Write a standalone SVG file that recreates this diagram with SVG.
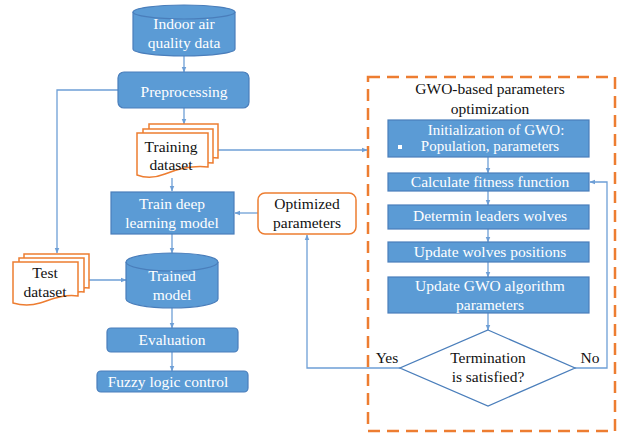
<svg xmlns="http://www.w3.org/2000/svg" width="623" height="434" viewBox="0 0 623 434">
<defs>
<style>
.b{fill:#5B9BD5;stroke:#4A7EBB;stroke-width:1.2}
.doc{fill:#fff;stroke:#ED7D31;stroke-width:1.5}
text{font-family:'Liberation Serif',serif;font-size:15.5px;text-anchor:middle}
.wt{fill:#fff}
.bt{fill:#111}
.c{fill:none;stroke:#6E9FD6;stroke-width:1.3}
</style>
<marker id="ar" viewBox="0 0 10 10" refX="9" refY="5" markerWidth="6" markerHeight="6" orient="auto" markerUnits="userSpaceOnUse">
<path d="M0,1 L10,5 L0,9 Z" fill="#6E9FD6"/>
</marker>
</defs>
<rect width="623" height="434" fill="#fff"/>

<g id="gwo-frame">
<rect x="368" y="77" width="247" height="354" fill="none" stroke="#ED7D31" stroke-width="2.5" stroke-dasharray="12,7"/>
<text class="bt" x="490" y="94">GWO-based parameters</text>
<text class="bt" x="490" y="114">optimization</text>
</g>

<g id="connectors">
<line class="c" x1="184" y1="56" x2="184" y2="72" marker-end="url(#ar)"/>
<polyline class="c" points="118,90 57,90 57,253" marker-end="url(#ar)"/>
<line class="c" x1="184" y1="108" x2="184" y2="124" marker-end="url(#ar)"/>
<line class="c" x1="218" y1="150" x2="367" y2="150" marker-end="url(#ar)"/>
<line class="c" x1="172" y1="178" x2="172" y2="191" marker-end="url(#ar)"/>
<line class="c" x1="258" y1="213" x2="235" y2="213" marker-end="url(#ar)"/>
<line class="c" x1="172" y1="234" x2="172" y2="253" marker-end="url(#ar)"/>
<line class="c" x1="89" y1="280" x2="126" y2="280" marker-end="url(#ar)"/>
<line class="c" x1="172" y1="308" x2="172" y2="328" marker-end="url(#ar)"/>
<line class="c" x1="172" y1="352" x2="172" y2="371" marker-end="url(#ar)"/>
<line class="c" x1="488" y1="157" x2="488" y2="173" marker-end="url(#ar)"/>
<line class="c" x1="488" y1="191" x2="488" y2="205" marker-end="url(#ar)"/>
<line class="c" x1="488" y1="229" x2="488" y2="242" marker-end="url(#ar)"/>
<line class="c" x1="488" y1="262" x2="488" y2="277" marker-end="url(#ar)"/>
<line class="c" x1="488" y1="313" x2="488" y2="330" marker-end="url(#ar)"/>
<polyline class="c" points="575,368 607,368 607,182 590,182" marker-end="url(#ar)"/>
<polyline class="c" points="400,368 307,368 307,235" marker-end="url(#ar)"/>
<text class="bt" x="387" y="363">Yes</text>
<text class="bt" x="590" y="363">No</text>
</g>

<g id="indoor-air">
<path class="b" d="M133,12 V49 A51,7 0 0 0 235,49 V12 A51,7 0 0 0 133,12 Z"/>
<path d="M133,12 A51,7 0 0 0 235,12" fill="none" stroke="#4A7EBB" stroke-width="1.2"/>
<text class="wt" x="184" y="29">Indoor air</text>
<text class="wt" x="184" y="48">quality data</text>
</g>

<g id="preprocessing">
<rect class="b" x="118" y="72" width="131" height="36" rx="6"/>
<text class="wt" x="184" y="97">Preprocessing</text>
</g>

<g id="training-dataset">
<path class="doc" d="M149,124 H218 V158 C205,156 195,160 190,161 L149,161 Z"/>
<path class="doc" d="M143,129 H213 V163 C200,161 190,166 180,168 L143,168 Z"/>
<path class="doc" d="M137,133 H208 V167 C190,165 175,170 165,174 C155,178 145,178 137,175 Z"/>
<text class="bt" x="171" y="152">Training</text>
<text class="bt" x="171" y="170">dataset</text>
</g>

<g id="train-model">
<rect class="b" x="111" y="192" width="123" height="42"/>
<text class="wt" x="172" y="209">Train deep</text>
<text class="wt" x="172" y="228">learning model</text>
</g>

<g id="optimized-parameters">
<rect x="258" y="193" width="98" height="41" rx="7" fill="#fff" stroke="#ED7D31" stroke-width="1.5"/>
<text class="bt" x="307" y="209">Optimized</text>
<text class="bt" x="307" y="228">parameters</text>
</g>

<g id="trained-model">
<path class="b" d="M126,262 V299 A46,9 0 0 0 218,299 V262 A46,9 0 0 0 126,262 Z"/>
<path d="M126,262 A46,9 0 0 0 218,262" fill="none" stroke="#4A7EBB" stroke-width="1.2"/>
<text class="wt" x="172" y="281">Trained</text>
<text class="wt" x="172" y="300">model</text>
</g>

<g id="test-dataset">
<path class="doc" d="M24,254 H89 V288 C80,287 72,290 68,291 L24,291 Z"/>
<path class="doc" d="M19,258 H84 V292 C75,291 67,294 60,296 L19,296 Z"/>
<path class="doc" d="M13,262 H78 V296 C62,294 50,300 40,303 C30,306 20,305 13,303 Z"/>
<text class="bt" x="45" y="278">Test</text>
<text class="bt" x="45" y="297">dataset</text>
</g>

<g id="evaluation">
<rect class="b" x="107" y="328" width="131" height="24" rx="4"/>
<text class="wt" x="172" y="345">Evaluation</text>
</g>

<g id="fuzzy">
<rect class="b" x="97" y="371" width="151" height="21" rx="4"/>
<text class="wt" x="168" y="387">Fuzzy logic control</text>
</g>

<g id="init-gwo">
<rect class="b" x="388" y="120" width="201" height="37"/>
<rect x="398" y="145" width="4" height="4" fill="#fff"/>
<text class="wt" x="496" y="135" style="font-size:15px">Initialization of GWO:</text>
<text class="wt" x="490" y="151" style="font-size:15px">Population, parameters</text>
</g>

<g id="fitness">
<rect class="b" x="388" y="173" width="201" height="18"/>
<text class="wt" x="490" y="187">Calculate fitness function</text>
</g>

<g id="leaders">
<rect class="b" x="388" y="205" width="201" height="24"/>
<text class="wt" x="490" y="221">Determin leaders wolves</text>
</g>

<g id="update-positions">
<rect class="b" x="388" y="242" width="201" height="20"/>
<text class="wt" x="490" y="257">Update wolves positions</text>
</g>

<g id="update-params">
<rect class="b" x="388" y="277" width="201" height="36"/>
<text class="wt" x="490" y="291">Update GWO algorithm</text>
<text class="wt" x="490" y="310">parameters</text>
</g>

<g id="termination">
<polygon points="488,330 575,368 488,406 400,368" fill="#fff" stroke="#4A7EBB" stroke-width="1.3"/>
<text class="bt" x="488" y="363">Termination</text>
<text class="bt" x="488" y="382">is satisfied?</text>
</g>
</svg>
